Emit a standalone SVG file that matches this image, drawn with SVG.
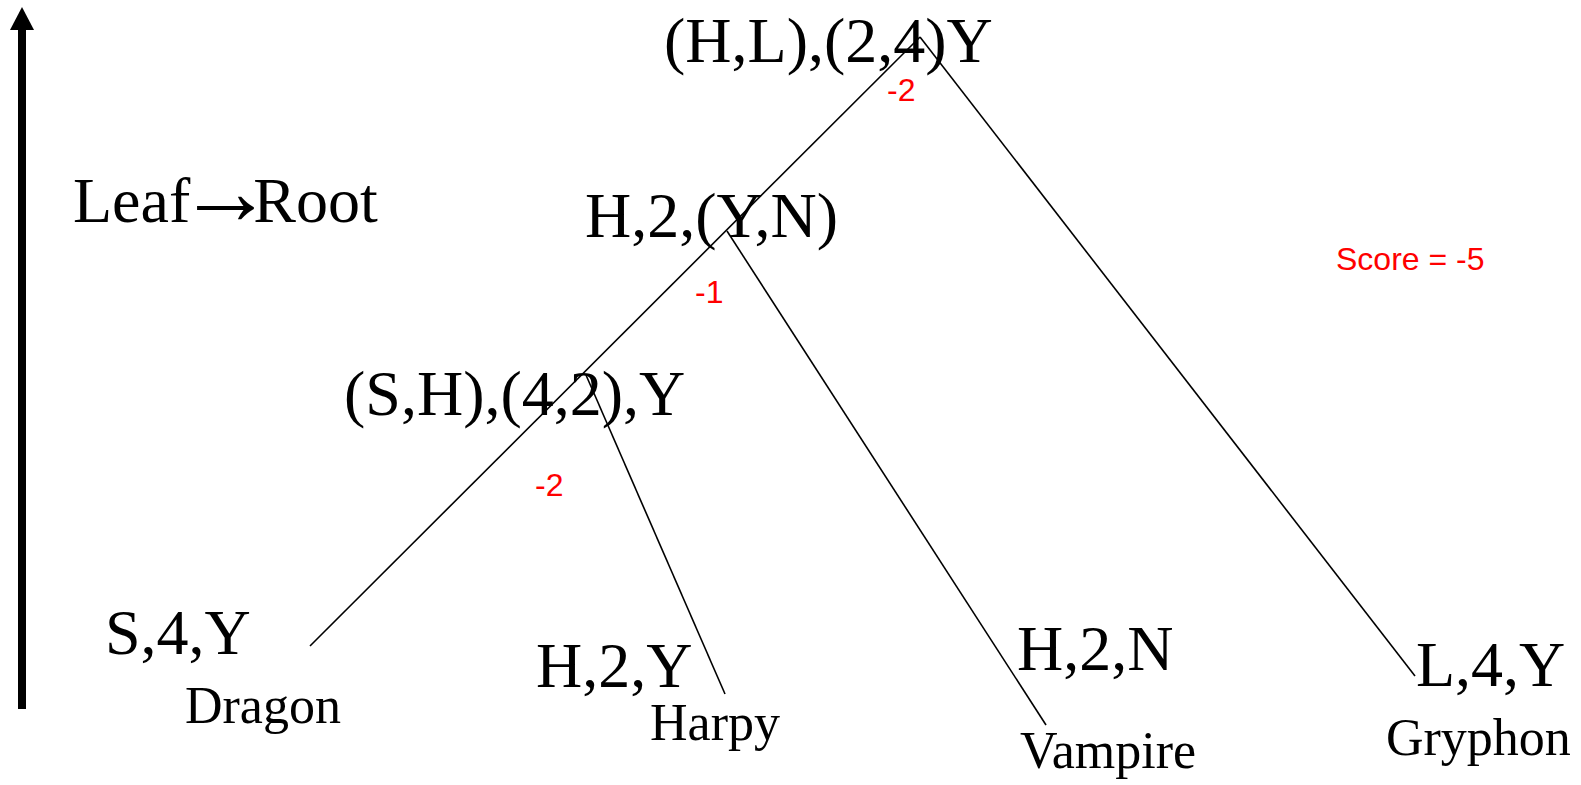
<svg xmlns="http://www.w3.org/2000/svg" width="1581" height="785" viewBox="0 0 1581 785">
<style>
.big{font-family:"Liberation Serif","Times New Roman",serif;font-size:64px;fill:#000}
.name{font-family:"Liberation Serif","Times New Roman",serif;font-size:52px;fill:#000}
.red{font-family:"Liberation Sans",Arial,sans-serif;font-size:32px;fill:#ff0000}
.edge{stroke:#000;stroke-width:1.6;fill:none}
.arr{font-size:96px}
</style>
<rect width="1581" height="785" fill="#fff"/>
<g id="axis">
<rect x="18" y="28" width="8" height="681" fill="#000"/>
<polygon points="22,7 34,30 10,30" fill="#000"/>
<text class="big" x="73" y="222">Leaf<tspan class="arr" dx="-13" dy="2">→</tspan><tspan dx="-20" dy="-2">Root</tspan></text>
</g>
<g id="connectors">
<line class="edge" x1="920" y1="37" x2="310" y2="646"/>
<line class="edge" x1="920" y1="37" x2="1415" y2="676"/>
<line class="edge" x1="727" y1="231" x2="1046" y2="725"/>
<line class="edge" x1="586" y1="375" x2="725" y2="694"/>
</g>
<g id="root">
<text class="big" x="664" y="62">(H,L),(2,4)Y</text>
<text class="red" x="887" y="101">-2</text>
</g>
<g id="node-h2yn">
<text class="big" x="585" y="237">H,2,(Y,N)</text>
<text class="red" x="695" y="303">-1</text>
</g>
<g id="node-sh42y">
<text class="big" x="344" y="415">(S,H),(4,2),Y</text>
<text class="red" x="535" y="496">-2</text>
</g>
<g id="leaf-dragon">
<text class="big" x="105" y="654">S,4,Y</text>
<text class="name" x="185" y="723">Dragon</text>
</g>
<g id="leaf-harpy">
<text class="big" x="536" y="687">H,2,Y</text>
<text class="name" x="650" y="740">Harpy</text>
</g>
<g id="leaf-vampire">
<text class="big" x="1017" y="670">H,2,N</text>
<text class="name" x="1020" y="768">Vampire</text>
</g>
<g id="leaf-gryphon">
<text class="big" x="1416" y="686">L,4,Y</text>
<text class="name" x="1386" y="755">Gryphon</text>
</g>
<g id="score">
<text class="red" x="1336" y="270">Score = -5</text>
</g>
</svg>
